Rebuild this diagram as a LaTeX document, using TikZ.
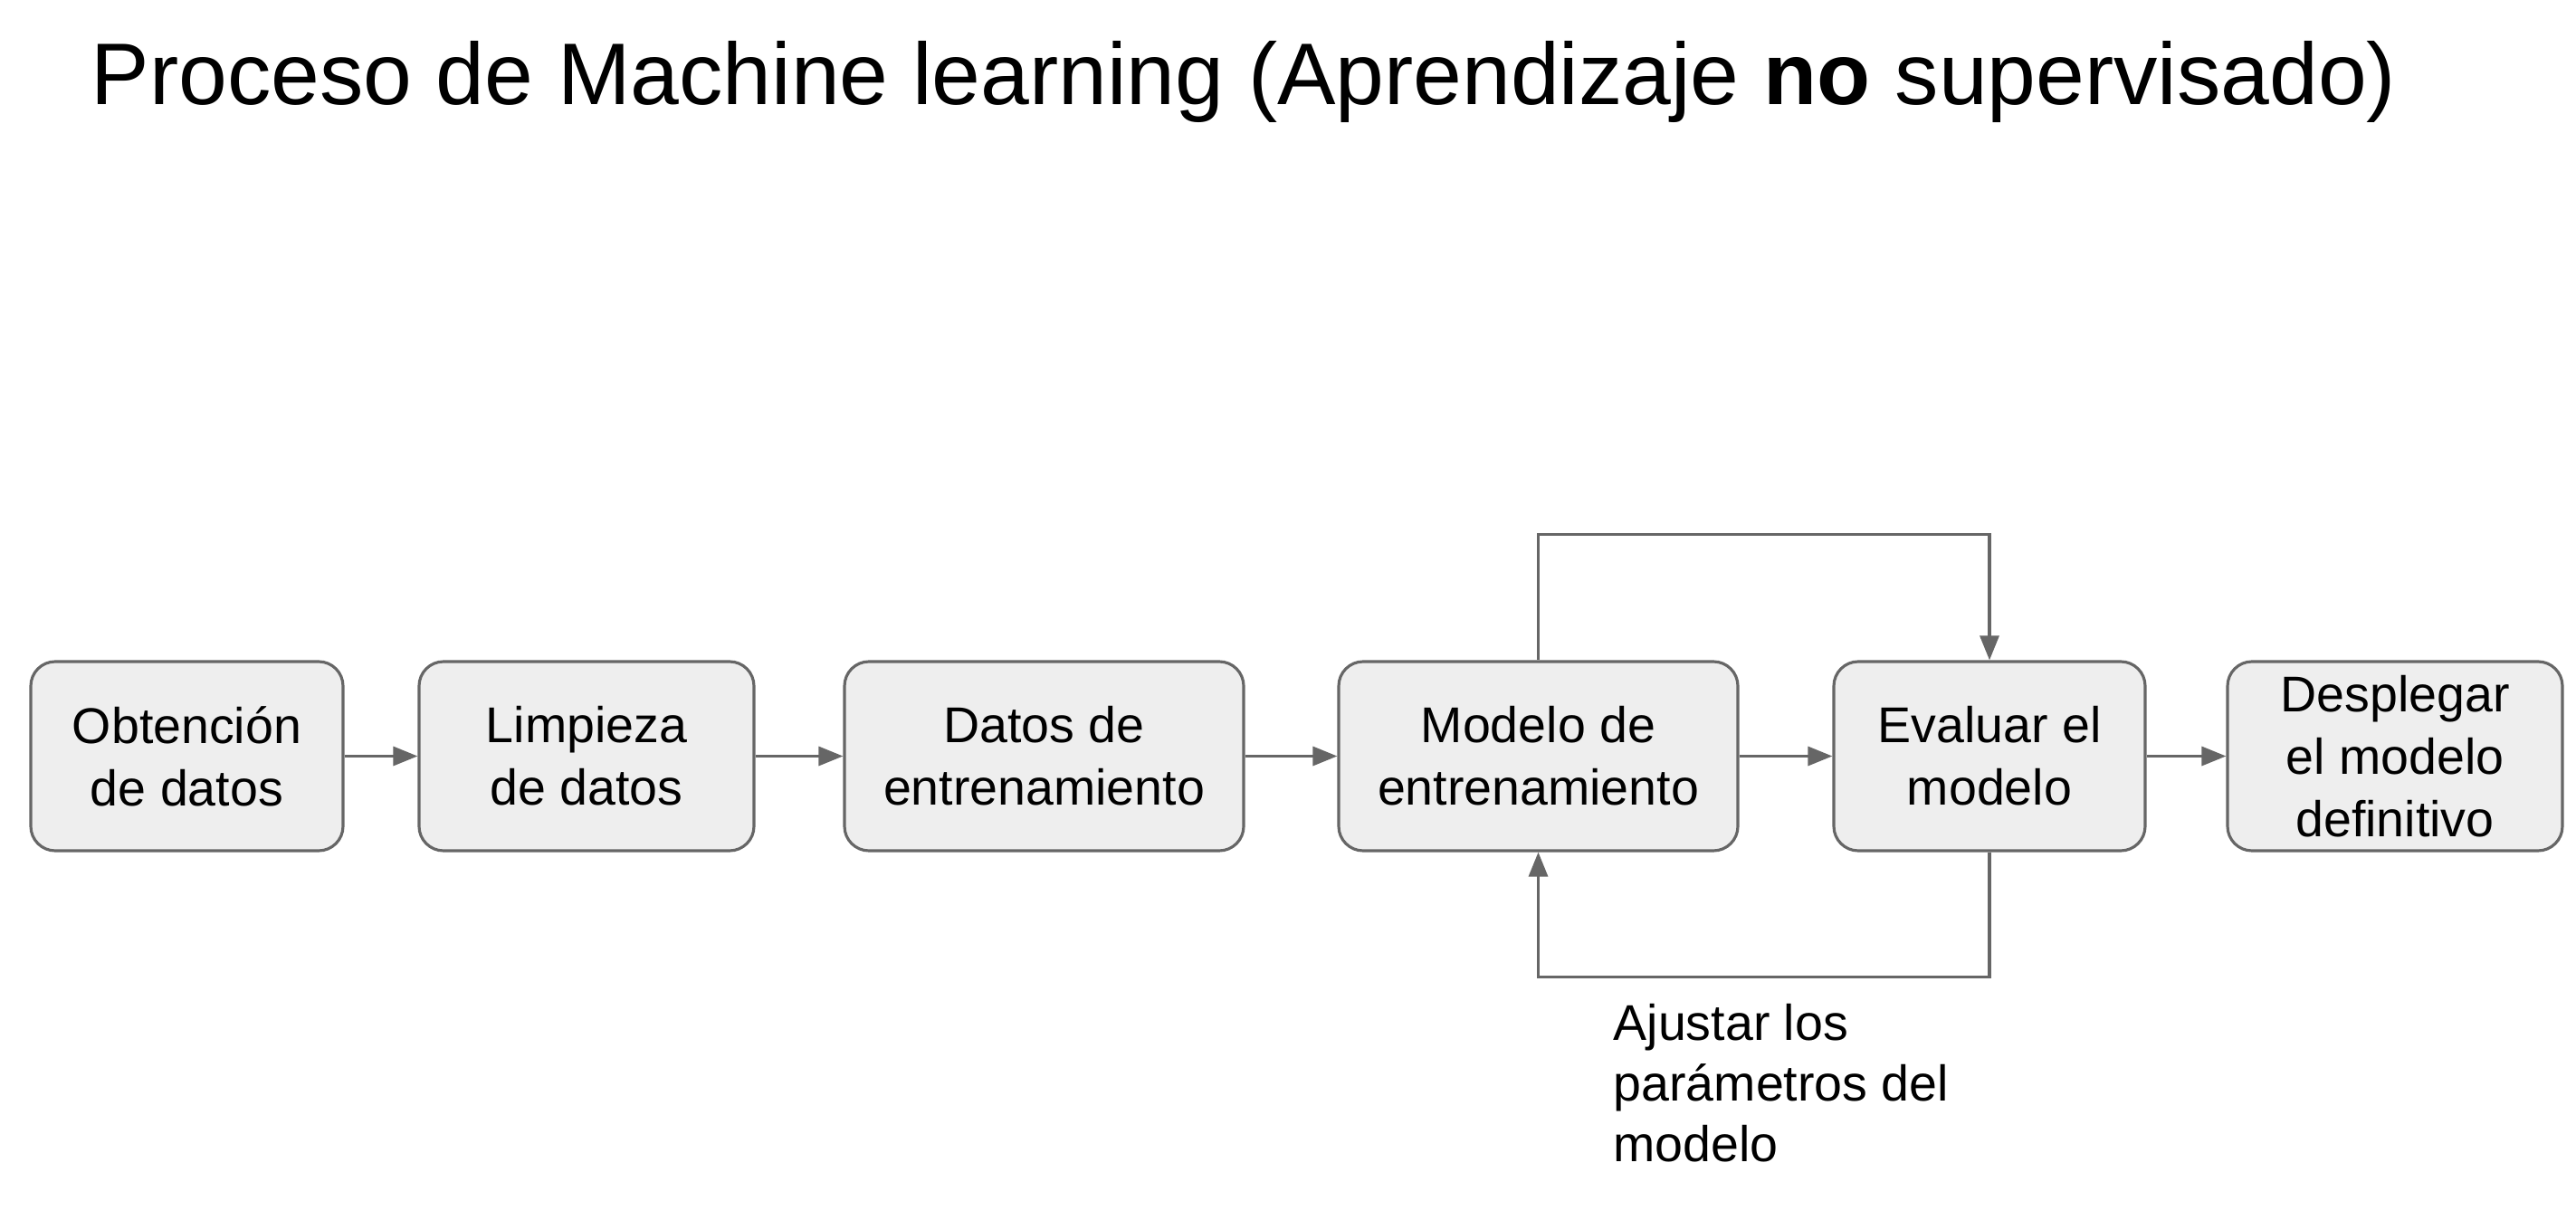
\documentclass[tikz,border=0pt]{standalone}
\usepackage{fontspec}
\setmainfont{Liberation Sans}
\usepackage{tikz}
\usetikzlibrary{arrows.meta}
\definecolor{linegray}{HTML}{666666}
\definecolor{boxgray}{HTML}{EEEEEE}
\tikzset{>={Triangle[length=0.27cm,width=0.21cm]}}
\tikzset{etapa/.style = {shape=rectangle,draw=linegray,fill=boxgray,line width=0.9pt,rounded corners=0.27cm,
    minimum height=2.09cm,inner sep=0pt,align=center,
    font=\fontsize{15.8pt}{19.6pt}\selectfont}}
\tikzset{flecha/.style = {->,draw=linegray,line width=0.9pt}}

\begin{document}
\begin{tikzpicture}
                \useasboundingbox (0,0) rectangle (28.46,13.48);
                \node[anchor=base west,inner sep=0pt,font=\fontsize{27.5pt}{33pt}\selectfont] (titulo) at (1.00,12.32)
                    {Proceso de Machine learning (Aprendizaje \textbf{no} supervisado)};

                \node[etapa,minimum width=3.45cm] (Ob) at (2.065,5.125) {Obtención\\de datos};
                \node[etapa,minimum width=3.70cm] (Li) at (6.48,5.125) {Limpieza\\de datos};
                \node[etapa,minimum width=4.41cm] (Da) at (11.535,5.125) {Datos de\\entrenamiento};
                \node[etapa,minimum width=4.41cm] (Mo) at (16.995,5.125) {Modelo de\\entrenamiento};
                \node[etapa,minimum width=3.44cm] (Ev) at (21.98,5.125) {Evaluar el\\modelo};
                \node[etapa,minimum width=3.70cm] (De) at (26.46,5.125) {Desplegar\\el modelo\\definitivo};

                \node[anchor=north west,inner sep=0pt,align=left,font=\fontsize{15.8pt}{19pt}\selectfont] (Aj) at (17.82,2.39)
                    {Ajustar los\\parámetros del\\modelo};

                \draw[flecha] (Ob) -- (Li);
                \draw[flecha] (Li) -- (Da);
                \draw[flecha] (Da) -- (Mo);
                \draw[flecha] (Mo) -- (Ev);
                \draw[flecha] (Ev) -- (De);
                \draw[flecha] (Mo.north) -- ++(0,1.39) -| (Ev.north);
                \draw[flecha] (Ev.south) -- ++(0,-1.38) -| (Mo.south);
            \end{tikzpicture}
\end{document}
